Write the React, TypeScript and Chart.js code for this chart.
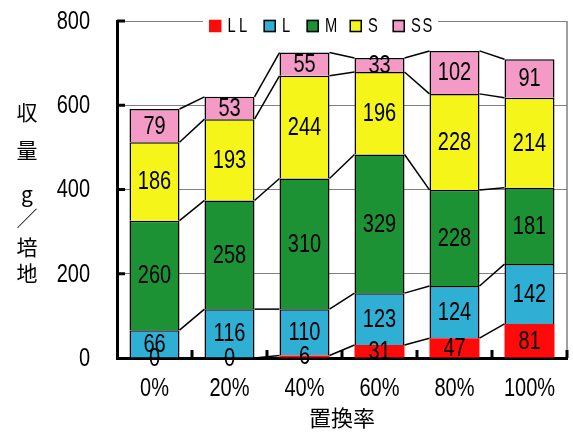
import React, { useEffect, useRef } from "react";
import { Chart, registerables } from "chart.js";

Chart.register(...registerables);

const categories = ["0%", "20%", "40%", "60%", "80%", "100%"];
const seriesNames = ["LL", "L", "M", "S", "SS"];
const llValues = [0, 0, 6, 31, 47, 81];
const lValues = [66, 116, 110, 123, 124, 142];
const mValues = [260, 258, 310, 329, 228, 181];
const sValues = [186, 193, 244, 196, 228, 214];
const ssValues = [79, 53, 55, 33, 102, 91];
const yMin = 0;
const yMax = 800;
const yStep = 200;
const yTitleChars = ["収", "量", "g", "／", "培", "地"];
const xTitle = "置換率";
const seriesColors = ["#FF0A0A", "#2EAFD3", "#1C9234", "#F5F519", "#F39AC6"];

const NUM_FONT = "25px 'Liberation Sans', Arial, sans-serif";
const NUM_SCALE = 0.8;
const CJK_FAMILY = "'Noto Sans CJK JP', 'Noto Sans', sans-serif";

function narrowText(
  ctx: CanvasRenderingContext2D,
  text: string,
  x: number,
  y: number,
  align: CanvasTextAlign,
  sx: number
) {
  ctx.save();
  ctx.translate(x, y);
  ctx.scale(sx, 1);
  ctx.textAlign = align;
  ctx.textBaseline = "middle";
  ctx.fillText(text, 0, 0);
  ctx.restore();
}

const decorPlugin = {
  id: "decor",
  afterDatasetsDraw(chart: any) {
    const ctx = chart.ctx as CanvasRenderingContext2D;
    const { left, right, top, bottom } = chart.chartArea;
    const metas = chart.data.datasets.map((_: any, i: number) => chart.getDatasetMeta(i));
    const xs = chart.scales.x;
    const ys = chart.scales.y;
    ctx.save();
    // series connector lines
    ctx.strokeStyle = "#000";
    ctx.lineWidth = 1.5;
    metas.forEach((meta: any) => {
      const els = meta.data;
      for (let j = 0; j < els.length - 1; j++) {
        const a = els[j];
        const b = els[j + 1];
        ctx.beginPath();
        ctx.moveTo(a.x + a.width / 2, a.y);
        ctx.lineTo(b.x - b.width / 2, b.y);
        ctx.stroke();
      }
    });
    // right frame
    ctx.strokeStyle = "#808080";
    ctx.lineWidth = 1.5;
    ctx.beginPath();
    ctx.moveTo(right, top);
    ctx.lineTo(right, bottom);
    ctx.stroke();
    // inward tick marks
    ctx.strokeStyle = "#000";
    ctx.lineWidth = 3;
    for (let v = yMin + yStep; v <= yMax; v += yStep) {
      const py = ys.getPixelForValue(v);
      ctx.beginPath();
      ctx.moveTo(left, py);
      ctx.lineTo(left + 8, py);
      ctx.stroke();
    }
    const n = categories.length;
    for (let k = 1; k <= n; k++) {
      const px = k < n ? (xs.getPixelForValue(k - 1) + xs.getPixelForValue(k)) / 2 : right;
      ctx.beginPath();
      ctx.moveTo(px, bottom - 8);
      ctx.lineTo(px, bottom);
      ctx.stroke();
    }
    // data labels
    ctx.font = NUM_FONT;
    ctx.fillStyle = "#000";
    metas.forEach((meta: any, i: number) => {
      meta.data.forEach((el: any, j: number) => {
        const v = chart.data.datasets[i].data[j];
        narrowText(ctx, String(v), el.x, (el.y + el.base) / 2 + 1, "center", NUM_SCALE);
      });
    });
    // y tick labels
    for (let v = yMin; v <= yMax; v += yStep) {
      narrowText(ctx, String(v), 90, ys.getPixelForValue(v) + 1, "right", NUM_SCALE);
    }
    // x tick labels
    categories.forEach((c, j) => {
      narrowText(ctx, c, xs.getPixelForValue(j), bottom + 31, "center", NUM_SCALE);
    });
    ctx.restore();
  },
  afterDraw(chart: any) {
    const ctx = chart.ctx as CanvasRenderingContext2D;
    const { left, right } = chart.chartArea;
    ctx.save();
    // legend
    ctx.font = "21px 'Liberation Sans', Arial, sans-serif";
    const startX = 209;
    const boxSize = 12.5;
    const cy = 26;
    const gapText = 6;
    const gapItem = 13;
    const charAdv = 11.5;
    let totalW = 0;
    seriesNames.forEach((name) => {
      totalW += boxSize + gapText + name.length * charAdv + gapItem;
    });
    ctx.fillStyle = "#fff";
    ctx.fillRect(startX - 6, cy - 13, totalW - 3, 26);
    let x = startX;
    seriesNames.forEach((name, i) => {
      ctx.fillStyle = seriesColors[i];
      ctx.fillRect(x, cy - boxSize / 2, boxSize, boxSize);
      if (i > 0) {
        ctx.strokeStyle = "#000";
        ctx.lineWidth = 1.5;
        ctx.strokeRect(x + 0.75, cy - boxSize / 2 + 0.75, boxSize - 1.5, boxSize - 1.5);
      }
      ctx.fillStyle = "#000";
      let tx = x + boxSize + gapText;
      for (const ch of name) {
        narrowText(ctx, ch, tx, cy + 0.5, "left", 0.7);
        tx += charAdv;
      }
      x = tx + gapItem;
    });
    // y title (vertical stacked chars)
    ctx.font = "21px " + CJK_FAMILY;
    ctx.textAlign = "center";
    ctx.textBaseline = "middle";
    const charYs = [112, 150, 194, 218, 247, 273];
    yTitleChars.forEach((c, i) => {
      ctx.fillText(c, 27, charYs[i]);
    });
    // x title
    ctx.font = "22px " + CJK_FAMILY;
    ctx.fillText(xTitle, (left + right) / 2, 418);
    ctx.restore();
  },
};

export default function App() {
  const canvasRef = useRef<HTMLCanvasElement>(null);

  useEffect(() => {
    const canvas = canvasRef.current;
    if (!canvas) return;
    const valueLists = [llValues, lValues, mValues, sValues, ssValues];
    const chart = new Chart(canvas, {
      type: "bar",
      data: {
        labels: categories,
        datasets: seriesNames.map((name, i) => ({
          label: name,
          data: valueLists[i],
          backgroundColor: seriesColors[i],
          borderColor: "#000",
          borderWidth: i === 0 ? 0 : 1.5,
          categoryPercentage: 1,
          barPercentage: 0.667,
        })),
      },
      options: {
        responsive: false,
        animation: false,
        events: [],
        layout: { padding: { left: 0, top: 21, right: 6, bottom: 0 } },
        plugins: {
          legend: { display: false },
          tooltip: { enabled: false },
        },
        scales: {
          x: {
            stacked: true,
            grid: { display: false },
            border: { display: true, color: "#000", width: 3 },
            ticks: { display: false },
            afterFit(scale: any) {
              scale.height = 74;
              scale.paddingLeft = 0;
              scale.paddingRight = 0;
            },
          },
          y: {
            stacked: true,
            min: yMin,
            max: yMax,
            ticks: { stepSize: yStep, display: false },
            grid: { color: "#808080", lineWidth: 1, drawTicks: false },
            border: { display: true, color: "#000", width: 3 },
            afterFit(scale: any) {
              scale.width = 117;
              scale.paddingTop = 0;
              scale.paddingBottom = 0;
            },
          },
        },
      },
      plugins: [decorPlugin],
    });
    return () => chart.destroy();
  }, []);

  return (
    <div style={{ position: "fixed", left: 0, top: 0, width: 573, height: 432, background: "#fff" }}>
      <canvas ref={canvasRef} width={573} height={432} style={{ display: "block" }} />
    </div>
  );
}
